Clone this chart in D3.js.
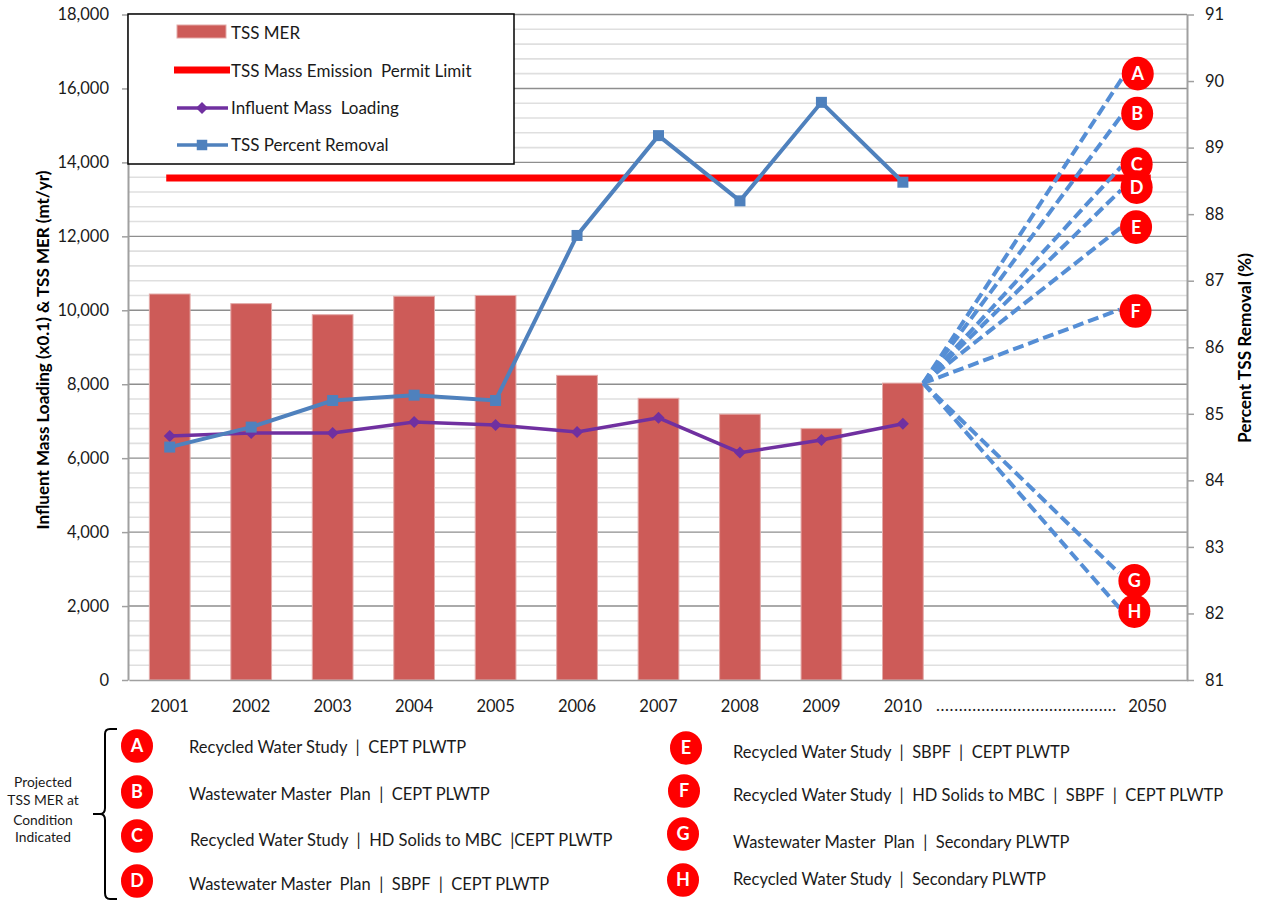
<!DOCTYPE html>
<html>
<head>
<meta charset="utf-8">
<script src="https://cdn.jsdelivr.net/npm/d3@7"></script>
<style>
  html, body { margin: 0; background: #fff; }
  svg { display: block; }
  text { font-family: Lato, "Open Sans", sans-serif; fill: #1a1a1a; }
</style>
</head>
<body>
<div class="container"></div>
<script>
// DATA
const years = ["2001", "2002", "2003", "2004", "2005", "2006", "2007", "2008", "2009", "2010"];
const categories = [...years, "gap1", "gap2", "2050"];
const tssMer = [10440, 10180, 9880, 10380, 10400, 8240, 7620, 7190, 6800, 8030];
const influent = [6600, 6680, 6680, 6980, 6900, 6710, 7090, 6150, 6490, 6930];
const percentRemoval = [84.5, 84.8, 85.2, 85.28, 85.2, 87.68, 89.18, 88.2, 89.68, 88.48];
const permitLimit = 13580;

const leftTicks = [0, 2000, 4000, 6000, 8000, 10000, 12000, 14000, 16000, 18000];
const rightTicks = [81, 82, 83, 84, 85, 86, 87, 88, 89, 90, 91];

// projections to 2050, read against the left axis
const projLetters = ["A", "B", "C", "D", "E", "F", "G", "H"];
const projStart = 8030;
const projEnd = [16300, 15250, 13880, 13250, 12240, 10020, 2900, 1950];
const projEndYear = [2045.6, 2045.3, 2045.3, 2045.3, 2045.3, 2045.1, 2044.9, 2045];
const badgeValue = [16400, 15320, 13950, 13330, 12250, 9980, 2680, 1860];
const badgeYear = [2048.3, 2048.2, 2048.1, 2048.1, 2048, 2047.9, 2047.7, 2047.7];

const conditionText = [
  "Recycled Water Study  |  CEPT PLWTP",
  "Wastewater Master  Plan  |  CEPT PLWTP",
  "Recycled Water Study  |  HD Solids to MBC  |CEPT PLWTP",
  "Wastewater Master  Plan  |  SBPF  |  CEPT PLWTP",
  "Recycled Water Study  |  SBPF  |  CEPT PLWTP",
  "Recycled Water Study  |  HD Solids to MBC  |  SBPF  |  CEPT PLWTP",
  "Wastewater Master  Plan  |  Secondary PLWTP",
  "Recycled Water Study  |  Secondary PLWTP"
];
const keyBadgeX = [137, 137, 137, 137, 686, 684, 683, 683];
const keyBadgeY = [746, 792, 836, 881, 748, 791, 834, 880];
const keyTextX = [189, 189, 190, 189, 733, 733, 733, 733];
const keyTextY = [747, 794, 840, 884, 752, 795, 842, 879];
const bracketLabel = ["Projected", "TSS MER at", "Condition", "Indicated"];
const bracketLabelY = [782, 800, 820, 837];

// RENDER
const width = 1263;
const height = 900;
const barColor = "#cd5b58";
const purple = "#7030a0";
const blue = "#4f81bd";
const dashBlue = "#558ed5";

const svg = d3.select(".container").append("svg")
  .attr("width", width)
  .attr("height", height);

const x = d3.scaleBand().domain(categories).range([129, 1188]).paddingInner(0.5).paddingOuter(0.25);
const xc = d => x(d) + x.bandwidth() / 2;
const y = d3.scaleLinear().domain([0, 18000]).range([680, 14.5]);
const yRight = d3.scaleLinear().domain([81, 91]).range([680, 14.5]);
const xProj = d3.scaleLinear().domain([2010, 2050]).range([x("2010") + x.bandwidth(), xc("2050")]);

// gridlines
svg.append("g").selectAll("line")
  .data(d3.range(400, 18000, 400).filter(d => d % 2000 !== 0))
  .enter().append("line")
  .attr("x1", 128).attr("x2", 1187)
  .attr("y1", d => y(d)).attr("y2", d => y(d))
  .attr("stroke", "#dfdfdf").attr("stroke-width", 1.6);

svg.append("g").selectAll("line")
  .data(leftTicks.filter(d => d > 0))
  .enter().append("line")
  .attr("x1", 128).attr("x2", 1187)
  .attr("y1", d => y(d)).attr("y2", d => y(d))
  .attr("stroke", "#8e8e8e").attr("stroke-width", 1.4);

// bars
svg.append("g").selectAll("rect")
  .data(tssMer)
  .enter().append("rect")
  .attr("x", (_, i) => x(years[i]))
  .attr("y", d => y(d))
  .attr("width", x.bandwidth())
  .attr("height", d => y(0) - y(d))
  .attr("fill", barColor)
  .attr("stroke", "#e3aaa8")
  .attr("stroke-width", 1);

// axes
const styleAxis = g => {
  g.selectAll(".domain").attr("stroke", "#a0a0a0").attr("stroke-width", 2);
  g.selectAll(".tick line").attr("stroke", "#a0a0a0").attr("stroke-width", 1.5);
  g.selectAll("text").attr("font-size", 16.5).attr("fill", "#1a1a1a");
};

svg.append("g")
  .attr("transform", "translate(128,0)")
  .call(d3.axisLeft(y).tickValues(leftTicks).tickFormat(d3.format(",")).tickSize(6).tickPadding(13).tickSizeOuter(0))
  .call(styleAxis);

svg.append("g")
  .attr("transform", "translate(1187,0)")
  .call(d3.axisRight(yRight).tickValues(rightTicks).tickFormat(d3.format("d")).tickSize(7).tickPadding(11).tickSizeOuter(0))
  .call(styleAxis);

svg.append("g")
  .attr("transform", "translate(0,680)")
  .call(d3.axisBottom(x).tickValues(categories).tickFormat(d => d.startsWith("gap") ? "" : d).tickSize(0).tickPadding(20))
  .call(styleAxis)
  .call(g => g.selectAll(".domain").attr("stroke", "#a0a0a0").attr("stroke-width", 1.5));

svg.append("text")
  .attr("x", (xc("gap1") + xc("gap2")) / 2 + 1)
  .attr("y", 711)
  .attr("text-anchor", "middle")
  .attr("font-size", 16.5)
  .attr("textLength", 180)
  .attr("lengthAdjust", "spacing")
  .text(".".repeat(40));

// axis titles
svg.append("text")
  .attr("transform", "translate(49,350) rotate(-90)")
  .attr("text-anchor", "middle")
  .attr("font-size", 17)
  .attr("font-weight", 700)
  .style("fill", "#000")
  .text("Influent Mass Loading (x0.1) & TSS MER (mt/yr)");

svg.append("text")
  .attr("transform", "translate(1251,348) rotate(-90)")
  .attr("text-anchor", "middle")
  .attr("font-size", 17.3)
  .attr("font-weight", 700)
  .style("fill", "#000")
  .text("Percent TSS Removal (%)");

// permit limit
svg.append("line")
  .attr("x1", xc("2001")).attr("x2", xc("2050"))
  .attr("y1", y(permitLimit)).attr("y2", y(permitLimit))
  .attr("stroke", "#ff0000")
  .attr("stroke-width", 7)
  .attr("stroke-linecap", "square");

// influent mass loading
const influentLine = d3.line().x((_, i) => xc(years[i])).y(d => y(d));
svg.append("path")
  .attr("d", influentLine(influent))
  .attr("fill", "none").attr("stroke", purple).attr("stroke-width", 3.5);

svg.append("g").selectAll("path")
  .data(influent)
  .enter().append("path")
  .attr("d", d3.symbol(d3.symbolSquare, 72))
  .attr("transform", (d, i) => `translate(${xc(years[i])},${y(d)}) rotate(45)`)
  .attr("fill", purple);

// percent removal
const removalLine = d3.line().x((_, i) => xc(years[i])).y(d => yRight(d));
svg.append("path")
  .attr("d", removalLine(percentRemoval))
  .attr("fill", "none").attr("stroke", blue).attr("stroke-width", 4);

svg.append("g").selectAll("path")
  .data(percentRemoval)
  .enter().append("path")
  .attr("d", d3.symbol(d3.symbolSquare, 121))
  .attr("transform", (d, i) => `translate(${xc(years[i])},${yRight(d)})`)
  .attr("fill", blue);

// projection lines
svg.append("g").selectAll("line")
  .data(projEnd)
  .enter().append("line")
  .attr("x1", xProj(2010)).attr("y1", y(projStart))
  .attr("x2", (_, i) => xProj(projEndYear[i]))
  .attr("y2", d => y(d))
  .attr("stroke", dashBlue)
  .attr("stroke-width", 4)
  .attr("stroke-dasharray", "11 5");

// badges
const drawBadges = (cx, cy) => {
  const g = svg.append("g").selectAll("g")
    .data(projLetters)
    .enter().append("g")
    .attr("transform", (_, i) => `translate(${cx(i)},${cy(i)})`);
  g.append("ellipse").attr("rx", 16).attr("ry", 16.8).attr("fill", "#ff0000");
  g.append("text")
    .attr("text-anchor", "middle")
    .attr("dy", "0.36em")
    .attr("font-size", 18)
    .attr("font-weight", 700)
    .style("fill", "#fff")
    .text(d => d);
};
drawBadges(i => xProj(badgeYear[i]), i => y(badgeValue[i]));
drawBadges(i => keyBadgeX[i], i => keyBadgeY[i]);

svg.append("g").selectAll("text")
  .data(conditionText)
  .enter().append("text")
  .attr("x", (_, i) => keyTextX[i])
  .attr("y", (_, i) => keyTextY[i])
  .attr("dy", "0.35em")
  .attr("font-size", 16.5)
  .style("white-space", "pre")
  .text(d => d);

// bracket
svg.append("path")
  .attr("d", "M117,729 H110 Q105,729 105,734 V808 Q105,814 100,814 H93 M100,814 Q105,814 105,820 V893 Q105,899 110,899 H117")
  .attr("fill", "none")
  .attr("stroke", "#000")
  .attr("stroke-width", 2);

svg.append("g").selectAll("text")
  .data(bracketLabel)
  .enter().append("text")
  .attr("x", 43)
  .attr("y", (_, i) => bracketLabelY[i])
  .attr("dy", "0.35em")
  .attr("text-anchor", "middle")
  .attr("font-size", 13.8)
  .text(d => d);

// legend
const legend = svg.append("g");
legend.append("rect")
  .attr("x", 128).attr("y", 14)
  .attr("width", 386).attr("height", 150)
  .attr("fill", "#fff")
  .attr("stroke", "#000")
  .attr("stroke-width", 1.5);

legend.append("rect")
  .attr("x", 177).attr("y", 25)
  .attr("width", 49).attr("height", 13)
  .attr("fill", barColor)
  .attr("stroke", "#e3aaa8");

legend.append("line")
  .attr("x1", 174).attr("x2", 230).attr("y1", 70).attr("y2", 70)
  .attr("stroke", "#ff0000").attr("stroke-width", 7);

legend.append("line")
  .attr("x1", 177).attr("x2", 228).attr("y1", 108).attr("y2", 108)
  .attr("stroke", purple).attr("stroke-width", 3.5);
legend.append("path")
  .attr("d", d3.symbol(d3.symbolSquare, 72))
  .attr("transform", "translate(202,108) rotate(45)")
  .attr("fill", purple);

legend.append("line")
  .attr("x1", 177).attr("x2", 228).attr("y1", 145).attr("y2", 145)
  .attr("stroke", blue).attr("stroke-width", 3.5);
legend.append("path")
  .attr("d", d3.symbol(d3.symbolSquare, 110))
  .attr("transform", "translate(202,145)")
  .attr("fill", blue);

legend.selectAll("text")
  .data(["TSS MER", "TSS Mass Emission  Permit Limit", "Influent Mass  Loading", "TSS Percent Removal"])
  .enter().append("text")
  .attr("x", 231)
  .attr("y", (_, i) => [33, 71, 108, 145][i])
  .attr("dy", "0.35em")
  .attr("font-size", 17)
  .style("white-space", "pre")
  .text(d => d);
</script>
</body>
</html>
